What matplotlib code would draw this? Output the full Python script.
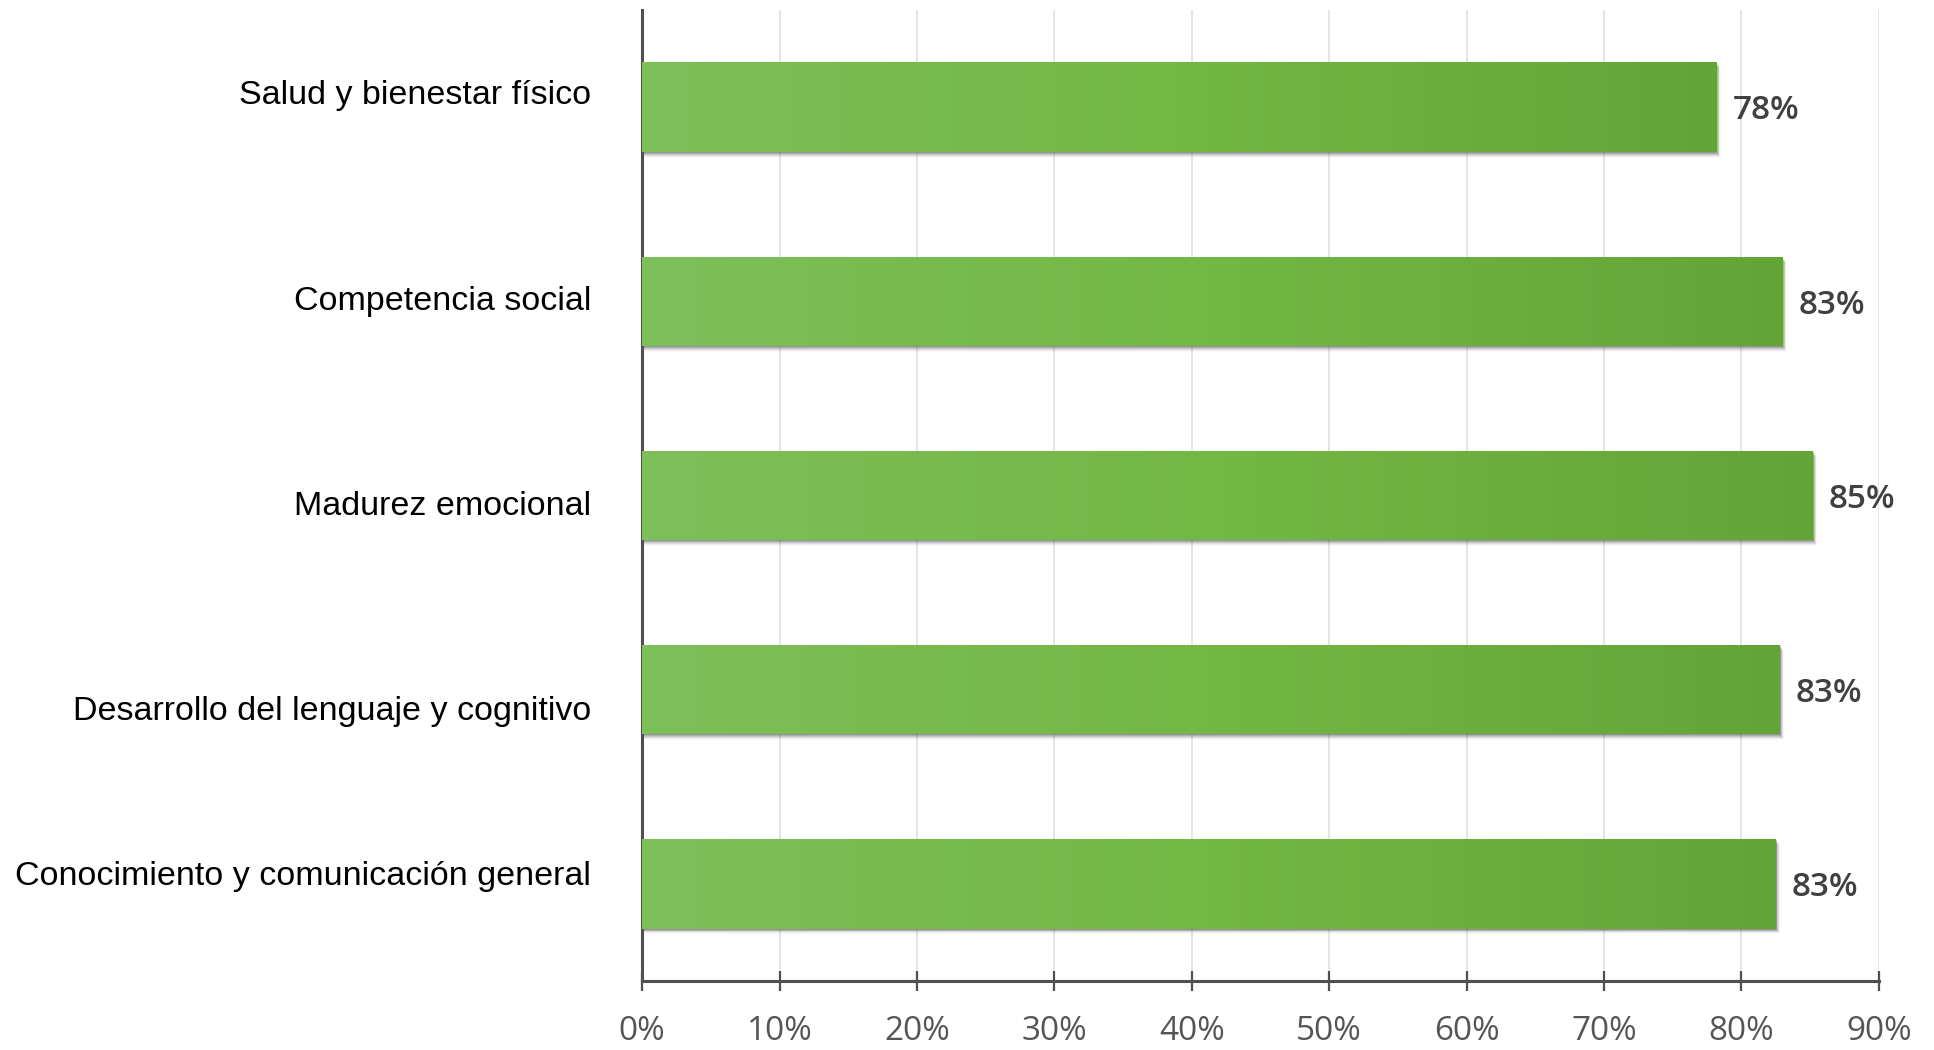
import numpy as np
import matplotlib
matplotlib.use('Agg')
import matplotlib.pyplot as plt
from matplotlib.colors import LinearSegmentedColormap
from matplotlib.patches import Rectangle

categories = ['Salud y bienestar físico', 'Competencia social', 'Madurez emocional',
              'Desarrollo del lenguaje y cognitivo', 'Conocimiento y comunicación general']
values = [78.2, 83.0, 85.2, 82.8, 82.5]
value_labels = ['78%', '83%', '85%', '83%', '83%']
xticks = [0, 10, 20, 30, 40, 50, 60, 70, 80, 90]
xtick_labels = ['%d%%' % t for t in xticks]

# baseline offsets of the category labels (they are not quite centred on the bars)
label_offsets = [-0.018, 0.044, 0.10, 0.157, 0.008]

fig = plt.figure(figsize=(19.34, 10.5), dpi=100)
ax = fig.add_axes([0.332, 0.0657, 0.6395, 0.9248])

green = LinearSegmentedColormap.from_list('g', ['#7dbf59', '#72b844', '#63a437'])
grad = np.linspace(0, 1, 256).reshape(1, -1)
h = 0.46

for i, v in enumerate(values):
	# soft shadow under the bar
	for k, a in zip(range(1, 7), [0.22, 0.18, 0.14, 0.10, 0.06, 0.03]):
		ax.add_patch(Rectangle((0, i - h / 2 + 0.005 * k), v + 0.05 * k, h, facecolor='#444444',
							   edgecolor='none', alpha=a, zorder=2))
	bar = Rectangle((0, i - h / 2), v, h, facecolor='none', edgecolor='none', zorder=3)
	ax.add_patch(bar)
	im = ax.imshow(grad, cmap=green, aspect='auto', extent=(0, v, i + h / 2, i - h / 2), zorder=3)
	im.set_clip_path(bar)
	ax.text(v + 1.15, i + 0.02, value_labels[i], ha='left', va='center', fontsize=24,
			family='Open Sans', fontweight='semibold', color='#404040', zorder=4)
	ax.text(-0.0412, i + label_offsets[i], categories[i], transform=ax.get_yaxis_transform(),
			ha='right', va='baseline', fontsize=24.5, family='Liberation Sans', color='black')

ax.set_xlim(0, 90)
ax.set_ylim(4.5, -0.5)
ax.set_xticks(xticks)
ax.set_xticklabels(xtick_labels, family='Open Sans', fontsize=24, color='#555555')
ax.set_yticks([])
ax.grid(axis='x', color='#e3e3e3', linewidth=1.3, zorder=0)
ax.set_axisbelow(True)

for s in ['top', 'right']:
	ax.spines[s].set_visible(False)
ax.spines['left'].set_color('#505050')
ax.spines['left'].set_linewidth(2.2)
ax.spines['bottom'].set_color('#505050')
ax.spines['bottom'].set_linewidth(2.2)
ax.tick_params(axis='x', direction='inout', length=15, width=1.6, color='#505050', pad=17)

fig.savefig('out.png', dpi=100, facecolor='white')
